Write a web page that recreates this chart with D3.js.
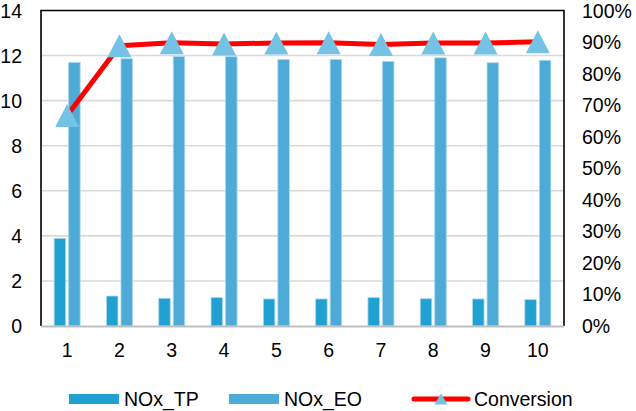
<!DOCTYPE html>
<html>
<head>
<meta charset="utf-8">
<script src="https://cdn.jsdelivr.net/npm/d3@7"></script>
<style>
  html, body { margin: 0; padding: 0; background: #fff; }
  svg { display: block; font-family: "Liberation Sans", Arial, sans-serif; }
</style>
</head>
<body>
<svg id="chart" width="636" height="411"></svg>
<script>
// Run numbers 1..10
const categories = ["1", "2", "3", "4", "5", "6", "7", "8", "9", "10"];
// NOx concentrations (left axis)
const noxTP = [3.89, 1.33, 1.23, 1.26, 1.20, 1.20, 1.26, 1.21, 1.20, 1.17];
const noxEO = [11.70, 11.86, 11.96, 11.95, 11.83, 11.83, 11.74, 11.90, 11.68, 11.79];
// Conversion (right axis, fraction)
const conversion = [0.667, 0.888, 0.898, 0.894, 0.897, 0.898, 0.892, 0.897, 0.897, 0.901];
// Axis ticks
const leftTicks = [0, 2, 4, 6, 8, 10, 12, 14];
const rightTicks = [0, 0.1, 0.2, 0.3, 0.4, 0.5, 0.6, 0.7, 0.8, 0.9, 1.0];

const seriesKeys = ["NOx_TP", "NOx_EO"];
const seriesValues = { NOx_TP: noxTP, NOx_EO: noxEO };
const colors = { NOx_TP: "#21A0D2", NOx_EO: "#4EABD7", Conversion: "#FF0000", marker: "#74C3E4" };

const svg = d3.select("#chart");
const plot = { left: 41, right: 564, top: 10.5, bottom: 326 };

const x = d3.scaleBand().domain(categories).range([plot.left, plot.right]).paddingInner(0).paddingOuter(0);
const x1 = d3.scaleBand().domain(seriesKeys).range([-13, 13]).paddingInner(0.207).paddingOuter(0);
const yL = d3.scaleLinear().domain([0, 14]).range([plot.bottom, plot.top]);
const yR = d3.scaleLinear().domain([0, 1]).range([plot.bottom, plot.top]);

// Horizontal gridlines
svg.append("g")
  .selectAll("line")
  .data(leftTicks.filter(d => d > 0 && d < 14))
  .join("line")
  .attr("x1", plot.left).attr("x2", plot.right)
  .attr("y1", d => yL(d)).attr("y2", d => yL(d))
  .attr("stroke", "#D9D9D9").attr("stroke-width", 1.6);

// Bars
const groups = svg.append("g")
  .selectAll("g")
  .data(categories)
  .join("g")
  .attr("transform", d => `translate(${x(d) + x.bandwidth() / 2},0)`);

groups.selectAll("rect")
  .data((c, i) => seriesKeys.map(k => ({ key: k, value: seriesValues[k][i] })))
  .join("rect")
  .attr("x", d => x1(d.key))
  .attr("width", x1.bandwidth())
  .attr("y", d => yL(d.value))
  .attr("height", d => yL(0) - yL(d.value))
  .attr("fill", d => colors[d.key])
  .attr("stroke", "#A9D9EF")
  .attr("stroke-width", 0.8);

// Plot frame: black top/left/right, gray category axis
svg.append("path")
  .attr("d", `M${plot.left},${plot.bottom}V${plot.top}H${plot.right}V${plot.bottom}`)
  .attr("fill", "none").attr("stroke", "#000").attr("stroke-width", 1.6);
svg.append("line")
  .attr("x1", plot.left).attr("x2", plot.right)
  .attr("y1", plot.bottom + 0.5).attr("y2", plot.bottom + 0.5)
  .attr("stroke", "#BFBFBF").attr("stroke-width", 2);

// Conversion line
const line = d3.line()
  .x((d, i) => x(categories[i]) + x.bandwidth() / 2)
  .y(d => yR(d));
svg.append("path")
  .datum(conversion)
  .attr("d", line)
  .attr("fill", "none")
  .attr("stroke", colors.Conversion)
  .attr("stroke-width", 5)
  .attr("stroke-linejoin", "round");

// Triangle markers, centred on their bounding box
const triPath = (w, h) => `M0,${-h / 2}L${w / 2},${h / 2}L${-w / 2},${h / 2}Z`;
svg.append("g")
  .selectAll("path")
  .data(conversion)
  .join("path")
  .attr("transform", (d, i) => `translate(${x(categories[i]) + x.bandwidth() / 2},${yR(d)})`)
  .attr("d", triPath(24, 23))
  .attr("fill", colors.marker);

// Left axis labels
const fontSize = 19.5;
svg.append("g")
  .selectAll("text")
  .data(leftTicks)
  .join("text")
  .attr("x", 22)
  .attr("y", d => yL(d))
  .attr("dy", "0.36em")
  .attr("text-anchor", "end")
  .attr("font-size", fontSize)
  .attr("fill", "#000")
  .text(d => d);

// Right axis labels
const pct = d3.format(".0%");
svg.append("g")
  .selectAll("text")
  .data(rightTicks)
  .join("text")
  .attr("x", 582)
  .attr("y", d => yR(d))
  .attr("dy", "0.36em")
  .attr("text-anchor", "start")
  .attr("font-size", fontSize)
  .attr("fill", "#000")
  .text(d => pct(d));

// Category labels
svg.append("g")
  .selectAll("text")
  .data(categories)
  .join("text")
  .attr("x", d => x(d) + x.bandwidth() / 2)
  .attr("y", 357)
  .attr("text-anchor", "middle")
  .attr("font-size", fontSize)
  .attr("fill", "#000")
  .text(d => d);

// Legend
const legend = svg.append("g");
const legendY = 399;
const legendItems = [
  { key: "NOx_TP", type: "bar", x: 69 },
  { key: "NOx_EO", type: "bar", x: 229 },
  { key: "Conversion", type: "line", x: 411 }
];
legendItems.forEach(item => {
  const g = legend.append("g").attr("transform", `translate(${item.x},${legendY})`);
  if (item.type === "bar") {
    g.append("rect").attr("x", 0).attr("y", -5).attr("width", 50).attr("height", 10)
      .attr("fill", colors[item.key]);
  } else {
    g.append("line").attr("x1", 3).attr("x2", 57).attr("y1", 0).attr("y2", 0)
      .attr("stroke", colors.Conversion).attr("stroke-width", 5).attr("stroke-linecap", "round");
    g.append("path").attr("transform", "translate(30,0)").attr("d", triPath(13, 11))
      .attr("fill", colors.marker);
  }
  g.append("text")
    .attr("x", item.type === "bar" ? 55 : 63)
    .attr("y", 0)
    .attr("dy", "0.36em")
    .attr("font-size", fontSize)
    .attr("fill", "#000")
    .text(item.key);
});
</script>
</body>
</html>
